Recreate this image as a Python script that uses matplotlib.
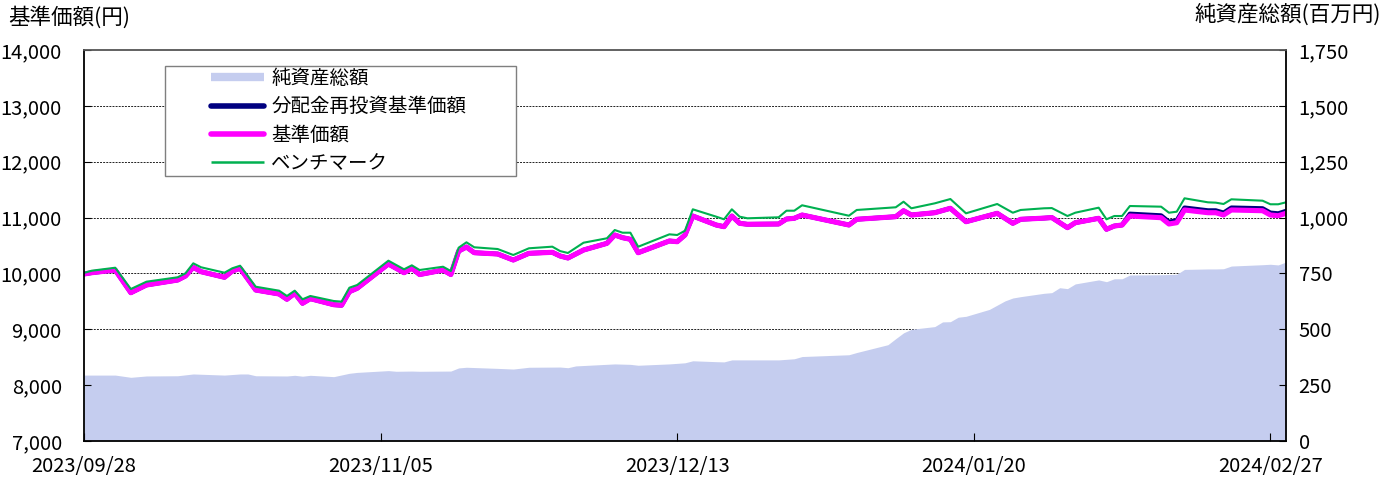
import matplotlib
matplotlib.use("Agg")
import matplotlib.pyplot as plt
import matplotlib.dates as mdates
from matplotlib.lines import Line2D
from matplotlib.patches import Rectangle
from matplotlib.ticker import FuncFormatter
import pandas as pd

plt.rcParams['font.family'] = ['Noto Sans CJK JP', 'DejaVu Sans']

# ---------------- data ----------------
line_dates = [
    "2023-09-28", "2023-09-29", "2023-10-02", "2023-10-04", "2023-10-06", "2023-10-10",
    "2023-10-11", "2023-10-12", "2023-10-13", "2023-10-16", "2023-10-17", "2023-10-18",
    "2023-10-20", "2023-10-23", "2023-10-24", "2023-10-25", "2023-10-26", "2023-10-27",
    "2023-10-30", "2023-10-31", "2023-11-01", "2023-11-02", "2023-11-06", "2023-11-08",
    "2023-11-09", "2023-11-10", "2023-11-13", "2023-11-14", "2023-11-15", "2023-11-16",
    "2023-11-17", "2023-11-20", "2023-11-22", "2023-11-24", "2023-11-27", "2023-11-28",
    "2023-11-29", "2023-12-01", "2023-12-04", "2023-12-05", "2023-12-06", "2023-12-07",
    "2023-12-08", "2023-12-12", "2023-12-13", "2023-12-14", "2023-12-15", "2023-12-18",
    "2023-12-19", "2023-12-20", "2023-12-21", "2023-12-22", "2023-12-26", "2023-12-27",
    "2023-12-28", "2023-12-29", "2024-01-04", "2024-01-05", "2024-01-10", "2024-01-11",
    "2024-01-12", "2024-01-15", "2024-01-17", "2024-01-19", "2024-01-23", "2024-01-25",
    "2024-01-26", "2024-01-29", "2024-01-30", "2024-02-01", "2024-02-02", "2024-02-05",
    "2024-02-06", "2024-02-07", "2024-02-08", "2024-02-09", "2024-02-13", "2024-02-14",
    "2024-02-15", "2024-02-16", "2024-02-19", "2024-02-20", "2024-02-21", "2024-02-22",
    "2024-02-26", "2024-02-27", "2024-02-28", "2024-02-29",
]

# 基準価額
nav_values = [
    9990, 10013, 10061, 9655, 9793, 9882,
    9954, 10110, 10031, 9931, 10043, 10092,
    9703, 9632, 9537, 9644, 9465, 9548,
    9440, 9430, 9673, 9734, 10169, 10013,
    10092, 9980, 10060, 9980, 10400, 10473,
    10371, 10348, 10240, 10360, 10378, 10312,
    10276, 10419, 10539, 10688, 10640, 10611,
    10371, 10581, 10568, 10688, 11028, 10867,
    10837, 11028, 10897, 10880, 10885, 10974,
    10987, 11046, 10867, 10969, 11016, 11123,
    11046, 11087, 11166, 10926, 11076, 10897,
    10969, 10990, 11000, 10819, 10908, 10987,
    10790, 10849, 10867, 11028, 10998, 10885,
    10908, 11136, 11087, 11087, 11046, 11136,
    11123, 11046, 11033, 11076,
]

# 分配金再投資基準価額
reinvest_values = [
    9990, 10013, 10061, 9655, 9793, 9882,
    9954, 10110, 10031, 9931, 10043, 10092,
    9703, 9632, 9537, 9644, 9465, 9548,
    9440, 9430, 9673, 9734, 10169, 10013,
    10092, 9980, 10060, 9980, 10400, 10473,
    10371, 10348, 10240, 10360, 10378, 10312,
    10276, 10419, 10539, 10688, 10640, 10611,
    10371, 10581, 10568, 10688, 11028, 10867,
    10837, 11028, 10897, 10880, 10885, 10974,
    10987, 11046, 10867, 10969, 11016, 11123,
    11046, 11087, 11166, 10926, 11076, 10897,
    10969, 10990, 11000, 10819, 10908, 10987,
    10790, 10849, 10867, 11066, 11036, 10923,
    10946, 11176, 11126, 11126, 11085, 11176,
    11163, 11085, 11072, 11116,
]

# ベンチマーク
bench_values = [
    10010, 10049, 10102, 9721, 9852, 9931,
    10002, 10181, 10110, 10013, 10092, 10138,
    9762, 9691, 9596, 9691, 9537, 9596,
    9506, 9495, 9744, 9793, 10228, 10074,
    10145, 10061, 10120, 10043, 10461, 10557,
    10468, 10437, 10330, 10450, 10479, 10400,
    10366, 10550, 10629, 10777, 10729, 10729,
    10478, 10700, 10688, 10765, 11148, 11016,
    10969, 11148, 11016, 10987, 11005, 11123,
    11123, 11220, 11033, 11136, 11184, 11284,
    11166, 11255, 11332, 11076, 11243, 11087,
    11136, 11166, 11170, 11028, 11087, 11177,
    10969, 11028, 11028, 11207, 11195, 11087,
    11105, 11345, 11273, 11267, 11243, 11327,
    11302, 11238, 11238, 11273,
]

# 純資産総額(百万円)
asset_dates = [
    "2023-09-28", "2023-10-02", "2023-10-04", "2023-10-06", "2023-10-10", "2023-10-12",
    "2023-10-16", "2023-10-18", "2023-10-19", "2023-10-20", "2023-10-24", "2023-10-25",
    "2023-10-26", "2023-10-27", "2023-10-30", "2023-11-01", "2023-11-02", "2023-11-06",
    "2023-11-07", "2023-11-09", "2023-11-10", "2023-11-14", "2023-11-15", "2023-11-16",
    "2023-11-20", "2023-11-22", "2023-11-24", "2023-11-28", "2023-11-29", "2023-11-30",
    "2023-12-05", "2023-12-07", "2023-12-08", "2023-12-12", "2023-12-14", "2023-12-15",
    "2023-12-18", "2023-12-19", "2023-12-20", "2023-12-26", "2023-12-28", "2023-12-29",
    "2024-01-04", "2024-01-05", "2024-01-09", "2024-01-10", "2024-01-11", "2024-01-12",
    "2024-01-15", "2024-01-16", "2024-01-17", "2024-01-18", "2024-01-19", "2024-01-22",
    "2024-01-23", "2024-01-24", "2024-01-25", "2024-01-26", "2024-01-29", "2024-01-30",
    "2024-01-31", "2024-02-01", "2024-02-02", "2024-02-05", "2024-02-06", "2024-02-07",
    "2024-02-08", "2024-02-09", "2024-02-13", "2024-02-14", "2024-02-15", "2024-02-16",
    "2024-02-19", "2024-02-20", "2024-02-21", "2024-02-22", "2024-02-26", "2024-02-27",
    "2024-02-28", "2024-02-29",
]
asset_values = [
    295, 295, 285, 291, 292, 300,
    295, 300, 300, 292, 291, 294,
    290, 294, 288, 303, 307, 315,
    312, 313, 312, 313, 327, 330,
    325, 322, 330, 331, 328, 336,
    345, 343, 339, 345, 350, 359,
    355, 354, 363, 363, 368, 378,
    386, 396, 431, 458, 484, 500,
    512, 533, 534, 554, 558, 589,
    608, 627, 640, 646, 661, 664,
    686, 682, 703, 721, 713, 726,
    726, 743, 744, 745, 746, 768,
    770, 770, 771, 783, 789, 791,
    788, 801,
]

x_tick_dates = ["2023-09-28", "2023-11-05", "2023-12-13", "2024-01-20", "2024-02-27"]
left_ticks = [7000, 8000, 9000, 10000, 11000, 12000, 13000, 14000]
right_ticks = [0, 250, 500, 750, 1000, 1250, 1500, 1750]

legend_labels = ["純資産総額", "分配金再投資基準価額", "基準価額", "ベンチマーク"]

# ---------------- colours ----------------
c_area = "#C5CDEF"
c_navy = "#000080"
c_mag = "#FF00FF"
c_green = "#00B050"

# ---------------- figure ----------------
W, H = 1391, 479
fig = plt.figure(figsize=(W / 100, H / 100), dpi=100)
ax_a = fig.add_axes([84 / W, 1 - 441 / H, 1202 / W, 391 / H])
ax_l = ax_a.twinx()

ld = pd.to_datetime(line_dates)
ad = pd.to_datetime(asset_dates)

# gridlines (under the area)
for v in right_ticks[1:-1]:
    ax_a.axhline(v, color="#222222", lw=0.7, ls=(0, (2, 1.2)), zorder=0.5)

ax_a.fill_between(ad, asset_values, 0, color=c_area, linewidth=0, zorder=1)
ax_a.set_ylim(0, 1750)
ax_a.set_xlim(pd.Timestamp("2023-09-28"), pd.Timestamp("2024-02-29"))

ax_l.plot(ld, reinvest_values, color=c_navy, lw=3.3, solid_joinstyle="round",
          solid_capstyle="round", zorder=2)
ax_l.plot(ld, nav_values, color=c_mag, lw=3.7, solid_joinstyle="round",
          solid_capstyle="round", zorder=3)
ax_l.plot(ld, bench_values, color=c_green, lw=1.5, solid_joinstyle="round", zorder=4)
ax_l.set_ylim(7000, 14000)

fmt = FuncFormatter(lambda v, p: f"{int(round(v)):,}")

ax_a.yaxis.tick_right()
ax_a.set_yticks(right_ticks)
ax_a.yaxis.set_major_formatter(fmt)
ax_a.tick_params(axis="y", direction="in", length=5, pad=9, labelsize=14.5,
                 color="black")

ax_l.yaxis.tick_left()
ax_l.set_yticks(left_ticks)
ax_l.yaxis.set_major_formatter(fmt)
ax_l.tick_params(axis="y", direction="in", length=5, pad=16, labelsize=14.5,
                 color="black")

ax_a.set_xticks(pd.to_datetime(x_tick_dates))
ax_a.xaxis.set_major_formatter(mdates.DateFormatter("%Y/%m/%d"))
ax_a.tick_params(axis="x", direction="in", length=6, pad=11, labelsize=14.5,
                 color="black")

for sp in ax_a.spines.values():
    sp.set_visible(False)
for name, sp in ax_l.spines.items():
    sp.set_color("black" if name != "top" else "#555555")
    sp.set_linewidth(1.3)
    sp.set_zorder(5)

# titles
fig.text(8 / W, 1 - 17 / H, "基準価額(円)", ha="left", va="center", fontsize=15.5)
fig.text(1381 / W, 1 - 15 / H, "純資産総額(百万円)", ha="right", va="center",
         fontsize=15.5)

# legend with separate frame
frame = Rectangle((165 / W, 1 - 176 / H), 351 / W, 110 / H, transform=fig.transFigure,
                  facecolor="white", edgecolor="#7f7f7f", lw=1.0, zorder=4)
fig.patches.append(frame)

handles = [
    Line2D([], [], color=c_area, lw=6, solid_capstyle="butt"),
    Line2D([], [], color=c_navy, lw=4, solid_capstyle="round"),
    Line2D([], [], color=c_mag, lw=4, solid_capstyle="round"),
    Line2D([], [], color=c_green, lw=1.8, solid_capstyle="butt"),
]
leg = fig.legend(handles, legend_labels, loc="upper left",
                 bbox_to_anchor=(211 / W, 1 - 68 / H), bbox_transform=fig.transFigure,
                 frameon=False, fontsize=14, borderpad=0, borderaxespad=0,
                 handlelength=2.75, handletextpad=0.35, labelspacing=0.38)
leg.set_zorder(5)

fig.savefig("out.png", dpi=100)
